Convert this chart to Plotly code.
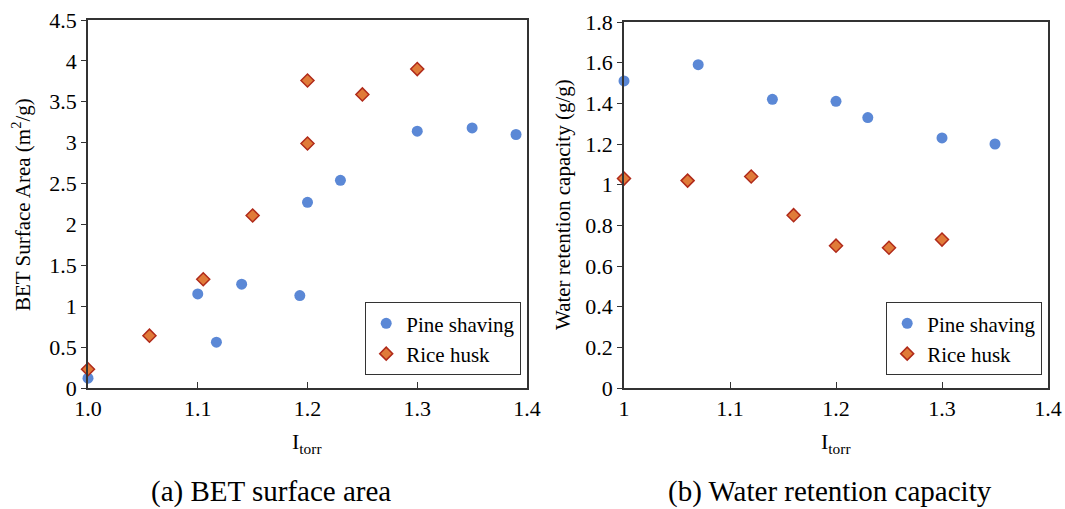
import plotly.graph_objects as go

# (a) BET surface area
bet_pine_x = [1.0, 1.10, 1.117, 1.14, 1.193, 1.2, 1.23, 1.3, 1.35, 1.39]
bet_pine_y = [0.12, 1.15, 0.56, 1.27, 1.13, 2.27, 2.54, 3.14, 3.18, 3.10]
bet_rice_x = [1.0, 1.056, 1.105, 1.15, 1.2, 1.2, 1.25, 1.3]
bet_rice_y = [0.23, 0.64, 1.33, 2.11, 2.99, 3.76, 3.59, 3.90]

# (b) Water retention capacity
wrc_pine_x = [1.0, 1.07, 1.14, 1.2, 1.23, 1.3, 1.35]
wrc_pine_y = [1.51, 1.59, 1.42, 1.41, 1.33, 1.23, 1.20]
wrc_rice_x = [1.0, 1.06, 1.12, 1.16, 1.2, 1.25, 1.3]
wrc_rice_y = [1.03, 1.02, 1.04, 0.85, 0.70, 0.69, 0.73]

W, H = 1065, 509
FONT = "Times New Roman, Liberation Serif, DejaVu Serif, serif"
BLUE = "#5B88D6"
ORANGE = "#E07B39"
DARKRED = "#B02A1A"

circle = dict(symbol="circle", size=11, color=BLUE)
diamond = dict(symbol="diamond", size=10, color=ORANGE, line=dict(color=DARKRED, width=1.5))

fig = go.Figure()
fig.add_trace(go.Scatter(x=bet_pine_x, y=bet_pine_y, mode="markers", name="Pine shaving",
                         marker=circle, xaxis="x", yaxis="y", legend="legend", cliponaxis=False))
fig.add_trace(go.Scatter(x=bet_rice_x, y=bet_rice_y, mode="markers", name="Rice husk",
                         marker=diamond, xaxis="x", yaxis="y", legend="legend", cliponaxis=False))
fig.add_trace(go.Scatter(x=wrc_pine_x, y=wrc_pine_y, mode="markers", name="Pine shaving",
                         marker=circle, xaxis="x2", yaxis="y2", legend="legend2", cliponaxis=False))
fig.add_trace(go.Scatter(x=wrc_rice_x, y=wrc_rice_y, mode="markers", name="Rice husk",
                         marker=diamond, xaxis="x2", yaxis="y2", legend="legend2", cliponaxis=False))

axis_common = dict(showgrid=False, zeroline=False, showline=True, linecolor="#333333",
                   linewidth=1.5, mirror=True, tickcolor="#333333", tickwidth=1.2,
                   automargin=False,
                   tickfont=dict(family=FONT, size=22, color="black"))

def px_x(p):
    return p / W

def px_y(p):
    return 1 - p / H

legend_common = dict(yanchor="bottom", xanchor="right",
                     bordercolor="#333333", borderwidth=1.2, bgcolor="white",
                     font=dict(family=FONT, size=21, color="black"), itemwidth=30,
                     tracegroupgap=0)

fig.update_layout(
    width=W, height=H,
    margin=dict(l=0, r=0, t=0, b=0, autoexpand=False),
    paper_bgcolor="white", plot_bgcolor="white",
    font=dict(family=FONT, color="black"),
    xaxis=dict(domain=[px_x(88), px_x(527)], range=[1.0, 1.4], dtick=0.1, tick0=1.0,
               tickformat=".1f", ticks="inside", ticklen=6, anchor="y", **axis_common),
    yaxis=dict(domain=[px_y(388), px_y(20)], range=[0, 4.5], dtick=0.5,
               ticks="outside", ticklen=5, anchor="x", **axis_common),
    xaxis2=dict(domain=[px_x(624), px_x(1048)], range=[1.0, 1.4], dtick=0.1, tick0=1.0,
                ticks="inside", ticklen=6, anchor="y2", **axis_common),
    yaxis2=dict(domain=[px_y(388), px_y(22)], range=[0, 1.8], dtick=0.2,
                ticks="outside", ticklen=5, anchor="x2", **axis_common),
    legend=dict(x=px_x(521), y=px_y(375), **legend_common),
    legend2=dict(x=px_x(1042), y=px_y(375), **legend_common),
    showlegend=True,
)

ann = [
    dict(text="BET Surface Area (m<sup>2</sup>/g)", x=px_x(22), y=px_y(205), textangle=-90,
         font=dict(size=21)),
    dict(text="Water retention capacity (g/g)", x=px_x(563), y=px_y(205), textangle=-90,
         font=dict(size=21)),
    dict(text="I<sub>torr</sub>", x=px_x(307), y=px_y(443), font=dict(size=22)),
    dict(text="I<sub>torr</sub>", x=px_x(836), y=px_y(443), font=dict(size=22)),
    dict(text="(a) BET surface area", x=px_x(271), y=px_y(491), font=dict(size=29)),
    dict(text="(b) Water retention capacity", x=px_x(830), y=px_y(491), font=dict(size=29)),
]
for a in ann:
    a.update(xref="paper", yref="paper", showarrow=False, xanchor="center", yanchor="middle")
    a["font"].update(family=FONT, color="black")
    fig.add_annotation(**a)

fig.write_html(
    "out.html",
    config={"displayModeBar": False},
    post_script="document.body.style.margin='0';document.body.style.overflow='hidden';",
)
